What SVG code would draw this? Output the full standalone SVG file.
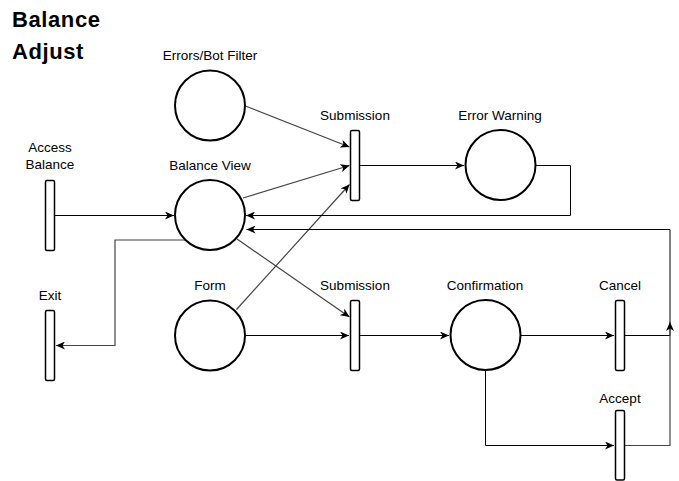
<svg xmlns="http://www.w3.org/2000/svg" width="679" height="481" viewBox="0 0 679 481">
<defs>
<marker id="arr" markerUnits="userSpaceOnUse" markerWidth="10" markerHeight="8" refX="9" refY="4" orient="auto" viewBox="0 0 10 8">
<path d="M0,0 L9,4 L0,8 L2.5,4 Z" fill="#000"/>
</marker>
<style>
.lbl{font-family:"Liberation Sans",Arial,sans-serif;font-size:13.5px;fill:#000;text-anchor:middle}
.title{font-family:"Liberation Sans",Arial,sans-serif;font-size:22px;font-weight:bold;fill:#000}
.place{fill:#fff;stroke:#000;stroke-width:2}
.bar{fill:#fff;stroke:#000;stroke-width:1.5}
.edge{fill:none;stroke:#000;stroke-width:1}
.dg{fill:none;stroke:#444;stroke-width:1.2}
</style>
</defs>
<rect width="679" height="481" fill="#fff"/>
<text class="title" x="12" y="27" letter-spacing="0.6">Balance</text>
<text class="title" x="12" y="59" letter-spacing="0.6">Adjust</text>

<g id="connectors">
<path class="edge" d="M55,215.5 H174" marker-end="url(#arr)"/>
<path class="dg" d="M245.5,106 L349.5,147" marker-end="url(#arr)"/>
<path class="dg" d="M243,198 L349.5,165.5" marker-end="url(#arr)"/>
<path class="dg" d="M236.5,309.5 L349.5,184.5" marker-end="url(#arr)"/>
<path class="dg" d="M237,239 L349.5,317" marker-end="url(#arr)"/>
<path class="dg" d="M185,240 H115 V345.5 H56" marker-end="url(#arr)"/>
<path class="edge" d="M245,335.5 H349" marker-end="url(#arr)"/>
<path class="edge" d="M360,165.5 H464" marker-end="url(#arr)"/>
<path class="edge" d="M535,165.5 H570.5 V215.5 H246" marker-end="url(#arr)"/>
<path class="edge" d="M625,335.5 H670 V229.5 H246.5" marker-end="url(#arr)"/>
<path class="dg" d="M625,445.5 H670 V322" marker-end="url(#arr)"/>
<path class="edge" d="M360,335.5 H449" marker-end="url(#arr)"/>
<path class="edge" d="M520,335.5 H614" marker-end="url(#arr)"/>
<path class="edge" d="M485.5,370 V445.5 H614" marker-end="url(#arr)"/>
</g>

<g id="errors-bot-filter">
<circle class="place" cx="210" cy="105.5" r="35"/>
<text class="lbl" x="210" y="60">Errors/Bot Filter</text>
</g>
<g id="balance-view">
<circle class="place" cx="210" cy="215" r="35"/>
<text class="lbl" x="210" y="170">Balance View</text>
</g>
<g id="form">
<circle class="place" cx="210" cy="335.5" r="35"/>
<text class="lbl" x="210" y="290">Form</text>
</g>
<g id="error-warning">
<circle class="place" cx="500.5" cy="165" r="35"/>
<text class="lbl" x="500" y="120">Error Warning</text>
</g>
<g id="confirmation">
<circle class="place" cx="485.5" cy="335" r="35"/>
<text class="lbl" x="485" y="290">Confirmation</text>
</g>
<g id="access-balance">
<rect class="bar" x="45.5" y="180.5" width="9" height="70" rx="1.5"/>
<text class="lbl" x="50" y="152">Access</text>
<text class="lbl" x="50" y="168.5">Balance</text>
</g>
<g id="exit">
<rect class="bar" x="45.5" y="310.5" width="9" height="70" rx="1.5"/>
<text class="lbl" x="50" y="300">Exit</text>
</g>
<g id="submission-top">
<rect class="bar" x="350.5" y="130.5" width="9" height="70" rx="1.5"/>
<text class="lbl" x="355" y="120">Submission</text>
</g>
<g id="submission-bottom">
<rect class="bar" x="350.5" y="300.5" width="9" height="70" rx="1.5"/>
<text class="lbl" x="355" y="290">Submission</text>
</g>
<g id="cancel">
<rect class="bar" x="615.5" y="300.5" width="9" height="70" rx="1.5"/>
<text class="lbl" x="620" y="290">Cancel</text>
</g>
<g id="accept">
<rect class="bar" x="615.5" y="410.5" width="9" height="69.5" rx="1.5"/>
<text class="lbl" x="620" y="402.5">Accept</text>
</g>
</svg>
